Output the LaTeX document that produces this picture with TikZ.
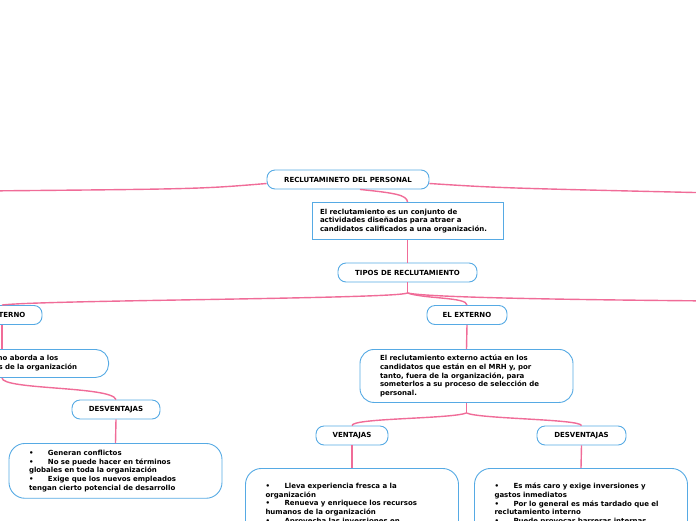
\documentclass[tikz,border=0pt]{standalone}
\usepackage{fontspec}
\setmainfont{DejaVu Sans}
\definecolor{lnk}{RGB}{240,108,152}
\definecolor{bdr}{RGB}{86,170,228}
\newcommand{\fnt}{\fontsize{7.0}{8.75}\selectfont\bfseries}
\newcommand{\bul}{\makebox[19pt][l]{•}}
\begin{document}
\begin{tikzpicture}[x=1pt,y=-1pt,
  conn/.style={draw=lnk, line width=1.4pt},
  tag/.style={draw=bdr, fill=white, line width=0.9pt, rounded corners=8pt, minimum height=19pt, inner sep=0pt, font=\fnt},
  box/.style={draw=bdr, fill=white, line width=0.9pt, rounded corners=13pt, align=left, font=\fnt, inner xsep=20pt, inner ysep=6.5pt, text width=173pt},
  sqbox/.style={draw=bdr, fill=white, line width=0.9pt, align=left, font=\fnt, inner xsep=8pt, inner ysep=4pt, text width=175pt}]
\useasboundingbox (0,0) rectangle (696,520);
% nodes
\node[tag, minimum width=162pt] (root) at (348,179.5) {RECLUTAMINETO DEL PERSONAL};
\node[sqbox, anchor=north, minimum height=37pt] (desc) at (407.5,202) {El reclutamiento es un conjunto de\\actividades diseñadas para atraer a\\candidatos calificados a una organización.};
\node[tag, minimum width=139pt] (tipos) at (407.5,272.5) {TIPOS DE RECLUTAMIENTO};
\node[tag, minimum width=80pt] (int) at (2,315) {EL INTERNO};
\node[tag, minimum width=80pt] (ext) at (467,315) {EL EXTERNO};
\node[box, anchor=north east, minimum height=28pt, inner ysep=4pt, text width=177pt] (intd) at (109,349) {El reclutamiento interno aborda a los\\candidatos potenciales de la organización};
\node[box, anchor=north, minimum height=53pt, rounded corners=14pt, inner ysep=4pt] (extd) at (466.5,349) {El reclutamiento externo actúa en los\\candidatos que están en el MRH y, por\\tanto, fuera de la organización, para\\someterlos a su proceso de selección de\\personal.};
\node[tag, minimum width=88pt] (desv1) at (116,409.5) {DESVENTAJAS};
\node[tag, minimum width=72pt] (vent) at (352,435.5) {VENTAJAS};
\node[tag, minimum width=89pt] (desv2) at (581.5,435.5) {DESVENTAJAS};
\node[box, anchor=north, rounded corners=16pt] (l1) at (115.5,443) {\bul Generan conflictos\\\bul No se puede hacer en términos\\globales en toda la organización\\\bul Exige que los nuevos empleados\\tengan cierto potencial de desarrollo};
\node[box, anchor=north, rounded corners=16pt, minimum height=80pt] (l2) at (352,468) {\bul Lleva experiencia fresca a la\\organización\\\bul Renueva y enriquece los recursos\\humanos de la organización\\\bul Aprovecha las inversiones en\\capacitación y en desarrollo de personal};
\node[box, anchor=north, rounded corners=16pt, minimum height=80pt] (l3) at (581,468) {\bul Es más caro y exige inversiones y\\gastos inmediatos\\\bul Por lo general es más tardado que el\\reclutamiento interno\\\bul Puede provocar barreras internas\\\bul Puede afectar la política salarial de la};
% connectors
\coordinate (offL) at (-20,191);
\coordinate (offR) at (716,193);
\coordinate (offR2) at (716,301);
\coordinate (j1) at (407.5,293);
\coordinate (j2) at (466.5,413);
\draw[conn] ([yshift=-4pt]root.west) .. controls (200,189) .. (offL);
\draw[conn] ([yshift=-4pt]root.east) .. controls (500,188) .. (offR);
\draw[conn] ([xshift=12pt]root.south) .. controls (395,193) and (407,195) .. (desc.north);
\draw[conn] (desc.south) -- (tipos.north);
\draw[conn] (tipos.south) -- (j1);
\draw[conn] (j1) .. controls (395,299) and (40,300) .. (int.north);
\draw[conn] (j1) .. controls (425,299) and (467,297) .. (ext.north);
\draw[conn] (j1) .. controls (430,298) and (600,300) .. (offR2);
\draw[conn] (int.south) -- (int.south |- intd.north);
\draw[conn] (int.south |- intd.south) .. controls (2,390) and (112,386) .. (desv1.north);
\draw[conn] (desv1.south) -- (l1.north);
\draw[conn] (ext.south) -- (extd.north);
\draw[conn] (extd.south) -- (j2);
\draw[conn] (j2) .. controls (450,419) and (352,418) .. (vent.north);
\draw[conn] (j2) .. controls (480,419) and (580,419) .. (desv2.north);
\draw[conn] (vent.south) -- (l2.north);
\draw[conn] (desv2.south) -- (l3.north);
\end{tikzpicture}
\end{document}
